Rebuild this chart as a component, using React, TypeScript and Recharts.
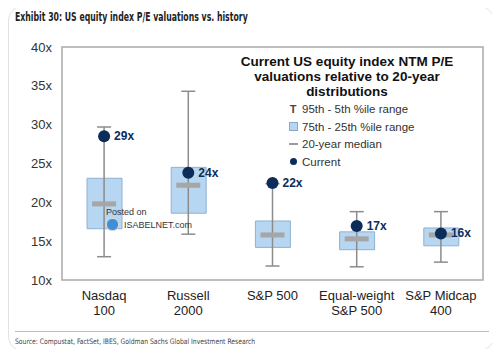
import React from "react";
import {
  Bar,
  ComposedChart,
  ErrorBar,
  ReferenceArea,
  Scatter,
  XAxis,
  YAxis,
} from "recharts";

// index names, split over two lines like the original axis
const catLine1 = ["Nasdaq", "Russell", "S&P 500", "Equal-weight", "S&P Midcap"];
const catLine2 = ["100", "2000", "", "S&P 500", "400"];

// 20-year NTM P/E distributions
const p5 = [13.0, 15.9, 11.8, 11.7, 12.3];
const p25 = [16.6, 18.6, 14.2, 13.9, 14.4];
const p50 = [19.8, 22.2, 15.8, 15.3, 15.8];
const p75 = [23.1, 24.5, 17.6, 16.2, 16.7];
const p95 = [29.7, 34.3, 22.4, 18.8, 18.8];
const current = [28.5, 23.8, 22.5, 16.95, 16.0];
const currentLabels = ["29x", "24x", "22x", "17x", "16x"];

const yTicks = [10, 15, 20, 25, 30, 35, 40];

const data = catLine1.map((name, i) => ({
  name,
  line2: catLine2[i],
  box: [p25[i], p75[i]],
  median: p50[i],
  whisker: [p50[i] - p5[i], p95[i] - p50[i]],
  current: current[i],
  label: currentLabels[i],
}));

const NAVY = "#0c2c5a";
const FONT = '"Liberation Sans", Arial, sans-serif';
const NARROW = '"Liberation Sans Narrow", "DejaVu Sans Condensed", "Liberation Sans", sans-serif';

const CategoryTick = (props: any) => {
  const { x, y, payload, index } = props;
  return (
    <text x={x} y={y} textAnchor="middle" fontSize={13} fill="#222" fontFamily={FONT}>
      <tspan x={x} dy={12}>{catLine1[index] ?? payload.value}</tspan>
      <tspan x={x} dy={15}>{catLine2[index]}</tspan>
    </text>
  );
};

const MedianShape = (props: any) => {
  const { cx, cy } = props;
  if (cx == null || cy == null) return null;
  return <rect x={cx - 12} y={cy - 2.5} width={24} height={5} fill="#a6a6a6" />;
};

const CurrentShape = (props: any) => {
  const { cx, cy, payload } = props;
  if (cx == null || cy == null) return null;
  return (
    <g>
      <circle cx={cx} cy={cy} r={6} fill={NAVY} />
      <text
        x={cx + 10}
        y={cy}
        dy={4}
        fontSize={12}
        fontWeight="bold"
        fill={NAVY}
        fontFamily={FONT}
      >
        {payload.label}
      </text>
    </g>
  );
};

const legendRows = [
  { key: "t", text: "95th - 5th %ile range" },
  { key: "box", text: "75th - 25th %ile range" },
  { key: "med", text: "20-year median" },
  { key: "dot", text: "Current" },
];

const LegendSymbol = ({ kind }: { kind: string }) => {
  if (kind === "t")
    return <span style={{ fontSize: 11, color: "#444", fontWeight: "bold" }}>T</span>;
  if (kind === "box")
    return (
      <span
        style={{
          display: "inline-block",
          width: 7,
          height: 7,
          background: "#b6d6f1",
          border: "1px solid #8aa9c6",
        }}
      />
    );
  if (kind === "med")
    return <span style={{ display: "inline-block", width: 9, height: 2, background: "#9a9a9a" }} />;
  return (
    <span
      style={{ display: "inline-block", width: 7, height: 7, borderRadius: 4, background: NAVY }}
    />
  );
};

export default function App() {
  return (
    <div style={{ position: "relative", width: 500, height: 357, margin: -8, background: "#fff" }}>
      <div
        style={{
          position: "absolute",
          left: 8,
          top: 6,
          width: 484,
          height: 343,
          border: "1px solid #e2e2e2",
          borderRadius: 14,
        }}
      />
      <div
        style={{
          position: "absolute",
          left: 15,
          top: 10,
          fontFamily: NARROW,
          fontWeight: "bold",
          fontSize: 12,
          color: "#222",
          whiteSpace: "nowrap",
          transform: "scaleX(0.72)",
          transformOrigin: "left center",
        }}
      >
        Exhibit 30: US equity index P/E valuations vs. history
      </div>

      <div style={{ position: "absolute", left: 0, top: 0 }}>
        <ComposedChart
          width={500}
          height={357}
          data={data}
          margin={{ top: 47, right: 17, bottom: 27, left: 12 }}
        >
          <XAxis
            dataKey="name"
            axisLine={false}
            tickLine={false}
            interval={0}
            height={50}
            tick={<CategoryTick />}
          />
          <YAxis
            domain={[10, 40]}
            ticks={yTicks}
            allowDataOverflow
            width={50}
            axisLine={false}
            tickLine={false}
            tickSize={0}
            tickMargin={10}
            tickFormatter={(v: number) => `${v}x`}
            tick={{ fontSize: 13, fill: "#333", fontFamily: FONT }}
          />
          <ReferenceArea y1={10} y2={40} fill="none" stroke="#a9a9a9" strokeWidth={1.5} />
          <Bar
            dataKey="box"
            barSize={35}
            fill="#b6d6f1"
            stroke="#8eb1d2"
            strokeWidth={1}
            isAnimationActive={false}
          />
          <Scatter dataKey="median" shape={<MedianShape />} isAnimationActive={false}>
            <ErrorBar
              dataKey="whisker"
              direction="y"
              width={7}
              stroke="#8c8c8c"
              strokeWidth={1.5}
              isAnimationActive={false}
            />
          </Scatter>
          <Scatter dataKey="current" shape={<CurrentShape />} isAnimationActive={false} />
        </ComposedChart>
      </div>

      {/* legend box */}
      <div
        style={{
          position: "absolute",
          left: 222,
          top: 54,
          width: 250,
          textAlign: "center",
          fontFamily: FONT,
          fontWeight: "bold",
          fontSize: 13.5,
          lineHeight: "15px",
          color: "#111",
        }}
      >
        Current US equity index NTM P/E
        <br />
        valuations relative to 20-year
        <br />
        distributions
      </div>
      {legendRows.map((r, i) => (
        <div
          key={r.key}
          style={{
            position: "absolute",
            left: 286,
            top: 102 + i * 17.5,
            height: 14,
            display: "flex",
            alignItems: "center",
            fontFamily: FONT,
            fontSize: 11.5,
            color: "#333",
            whiteSpace: "nowrap",
          }}
        >
          <span style={{ width: 14, display: "inline-flex", justifyContent: "center" }}>
            <LegendSymbol kind={r.key} />
          </span>
          <span style={{ marginLeft: 2 }}>{r.text}</span>
        </div>
      ))}

      {/* watermark */}
      <div
        style={{
          position: "absolute",
          left: 106,
          top: 206,
          fontFamily: FONT,
          fontSize: 9,
          color: "#333",
          lineHeight: "12px",
        }}
      >
        Posted on
        <div style={{ display: "flex", alignItems: "center" }}>
          <span
            style={{
              display: "inline-block",
              width: 11,
              height: 11,
              borderRadius: 6,
              background: "#3f8fd6",
              border: "1px solid #ddd",
              marginRight: 5,
            }}
          />
          ISABELNET.com
        </div>
      </div>

      <div
        style={{
          position: "absolute",
          left: 15,
          top: 331,
          width: 474,
          height: 1,
          background: "#bdbdbd",
        }}
      />
      <div
        style={{
          position: "absolute",
          left: 15,
          top: 337,
          fontFamily: NARROW,
          fontSize: 7.5,
          color: "#444",
          whiteSpace: "nowrap",
          transform: "scaleX(0.9)",
          transformOrigin: "left center",
        }}
      >
        Source: Compustat, FactSet, IBES, Goldman Sachs Global Investment Research
      </div>
    </div>
  );
}
